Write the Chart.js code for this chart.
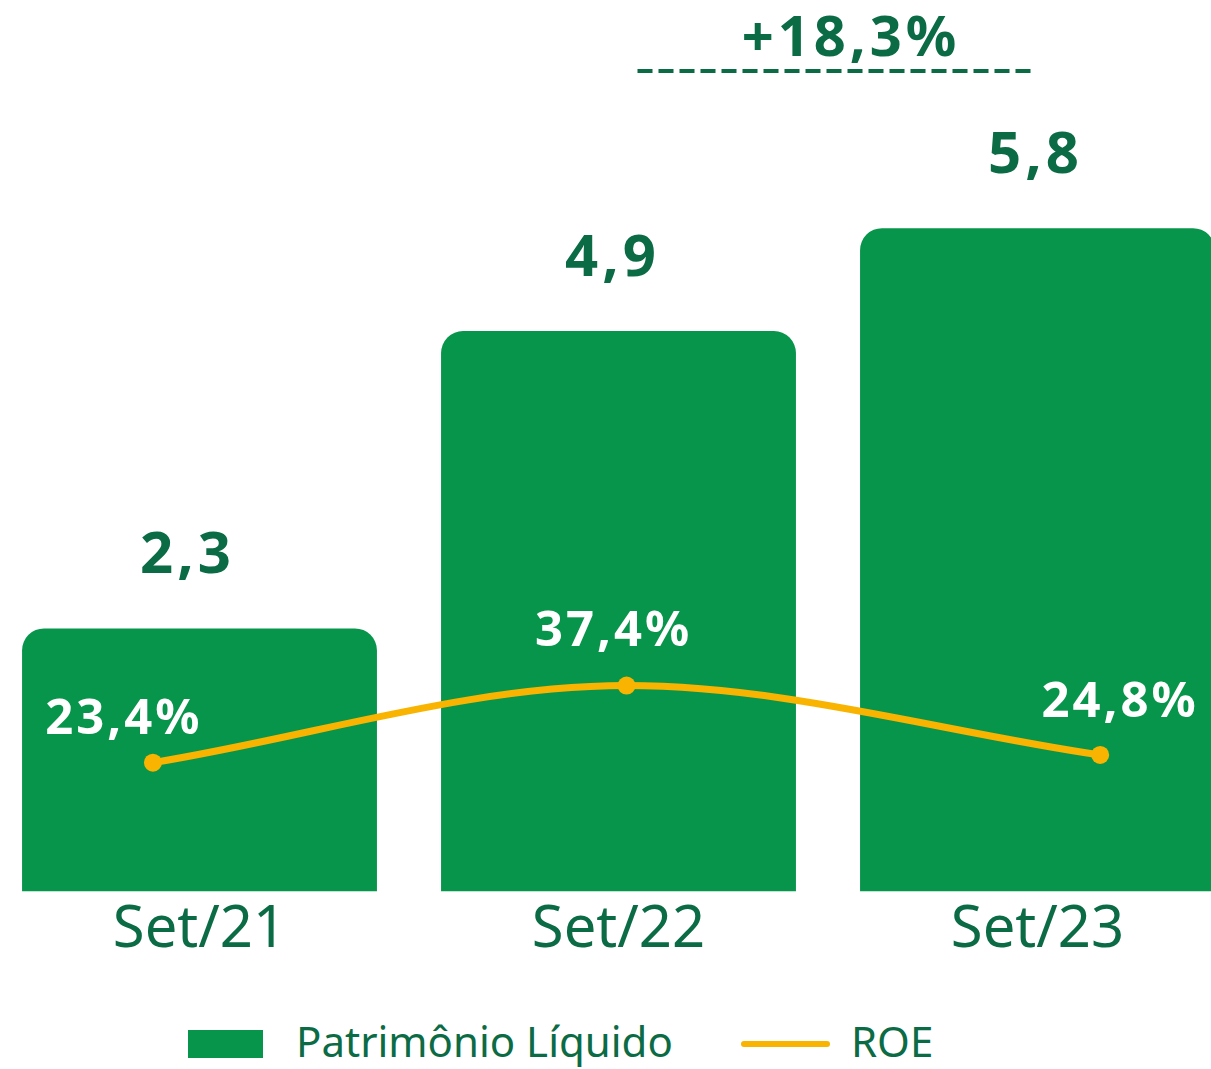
<!DOCTYPE html>
<html>
<head>
<meta charset="utf-8">
<script src="https://cdn.jsdelivr.net/npm/chart.js@4.4.1/dist/chart.umd.min.js"></script>
<style>
  html, body { margin: 0; padding: 0; background: #ffffff; overflow: hidden; }
  body { width: 1211px; height: 1069px; position: relative; font-family: "Noto Sans", sans-serif; }
  #chart-wrap { position: absolute; left: -10px; top: 0; width: 1257px; height: 969px; }
  .lg { position: absolute; color: #0b6b45; font-size: 42px; line-height: 1; }
  .swatch-bar { position: absolute; left: 188px; top: 1030px; width: 75px; height: 28px; background: #07954b; }
  .swatch-line { position: absolute; left: 741px; top: 1041px; width: 89px; height: 6px; border-radius: 3px; background: #f8b400; }
</style>
</head>
<body>
<div id="chart-wrap"><canvas id="pl-chart"></canvas></div>
<span class="swatch-bar"></span>
<span class="lg" style="left:296px; top:1020px;">Patrimônio Líquido</span>
<span class="swatch-line"></span>
<span class="lg" style="left:851px; top:1020px;">ROE</span>
<script>
// ====== DATA ======
const periods = ['Set/21', 'Set/22', 'Set/23'];
const patrimonio = [2.3, 4.9, 5.8];       // R$ bilhões
const roe = [23.4, 37.4, 24.8];           // %
const growthLabel = '+18,3%';

// ====== STYLE ======
const GREEN = '#07954b';
const DARK_GREEN = '#0b6b45';
const YELLOW = '#f8b400';
const barLabelDx = [-12, -6, -2];                            // small shift of bar labels
const roeLabelOffsets = [[-29, -43], [-13, -54], [20, -52]]; // label shift from each point

const fmt = v => v.toFixed(1).replace('.', ',');

// ====== LABEL PLUGIN ======
const labelPlugin = {
  id: 'valueLabels',
  afterDatasetsDraw(chart) {
    const ctx = chart.ctx;
    ctx.save();
    ctx.textAlign = 'center';
    ctx.textBaseline = 'middle';

    // bar values
    ctx.fillStyle = DARK_GREEN;
    ctx.font = 'bold 58px "Noto Sans"';
    ctx.letterSpacing = '4px';
    chart.getDatasetMeta(0).data.forEach((bar, i) => {
      ctx.fillText(fmt(patrimonio[i]), bar.x + barLabelDx[i], bar.y - 72);
    });

    // roe values
    ctx.fillStyle = '#ffffff';
    ctx.font = 'bold 49px "Noto Sans"';
    ctx.letterSpacing = '3px';
    chart.getDatasetMeta(1).data.forEach((pt, i) => {
      const [dx, dy] = roeLabelOffsets[i];
      ctx.fillText(fmt(roe[i]) + '%', pt.x + dx, pt.y + dy);
    });

    // growth annotation
    const xs = chart.scales.x;
    const x1 = xs.getPixelForValue(1) + 19;
    const x2 = xs.getPixelForValue(2) - 3;
    ctx.fillStyle = DARK_GREEN;
    ctx.font = 'bold 56px "Noto Sans"';
    ctx.letterSpacing = '4px';
    ctx.fillText(growthLabel, (x1 + x2) / 2 + 15, 40);
    ctx.strokeStyle = DARK_GREEN;
    ctx.lineWidth = 4;
    ctx.setLineDash([15, 6]);
    ctx.beginPath();
    ctx.moveTo(x1, 71);
    ctx.lineTo(x2, 71);
    ctx.stroke();
    ctx.restore();
  }
};

// ====== CHART ======
const ctx = document.getElementById('pl-chart').getContext('2d');
const myChart = new Chart(ctx, {
  type: 'bar',
  data: {
    labels: periods,
    datasets: [
      {
        label: 'Patrimônio Líquido',
        data: patrimonio,
        backgroundColor: GREEN,
        borderRadius: 22,
        borderSkipped: 'bottom',
        grouped: false,
        barPercentage: 0.847,
        categoryPercentage: 1,
        yAxisID: 'y',
        xAxisID: 'x',
        order: 1
      },
      {
        type: 'line',
        label: 'ROE',
        data: roe.map((v, i) => ({ x: i, y: v })),
        borderColor: YELLOW,
        backgroundColor: YELLOW,
        borderWidth: 7,
        pointRadius: 9,
        pointBorderWidth: 0,
        pointHoverRadius: 9,
        tension: 0.4,
        cubicInterpolationMode: 'monotone',
        yAxisID: 'y2',
        xAxisID: 'x2',
        order: 0
      }
    ]
  },
  options: {
    responsive: true,
    maintainAspectRatio: false,
    animation: false,
    layout: { padding: 0, autoPadding: false },
    plugins: {
      legend: { display: false },
      tooltip: { enabled: false }
    },
    scales: {
      x: {
        grid: { display: false, drawTicks: false, tickLength: 0 },
        border: { display: false },
        ticks: {
          color: DARK_GREEN,
          padding: 4,
          font: { family: '"Noto Sans"', size: 58 }
        }
      },
      x2: {
        type: 'linear',
        display: false,
        offset: false,
        min: -0.344,
        max: 2.31
      },
      y: { display: false, min: 0, max: 7.795 },
      y2: { display: false, min: 0, max: 162 }
    }
  },
  plugins: [labelPlugin]
});
</script>
</body>
</html>
